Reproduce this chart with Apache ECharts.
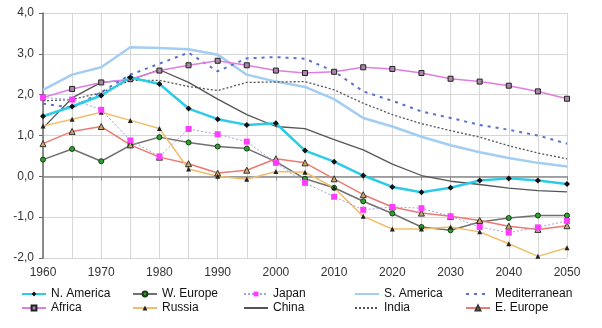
<!DOCTYPE html>
<html>
<head>
<meta charset="utf-8">
<script src="https://cdn.jsdelivr.net/npm/echarts@6/dist/echarts.min.js"></script>
<style>
  html, body { margin: 0; padding: 0; background: #fff; }
  #chart { width: 602px; height: 328px; }
</style>
</head>
<body>
<div id="chart"></div>
<script>
// Five-year steps, 1960-2050
const years = ['1960','1965','1970','1975','1980','1985','1990','1995','2000','2005',
               '2010','2015','2020','2025','2030','2035','2040','2045','2050'];

const nAmerica      = [1.47,1.71,1.98,2.42,2.26,1.66,1.40,1.26,1.30,0.63,0.36,0.02,-0.26,-0.39,-0.28,-0.10,-0.05,-0.10,-0.19];
const wEurope       = [0.41,0.67,0.37,0.76,0.96,0.83,0.73,0.68,0.36,-0.06,-0.28,-0.61,-0.91,-1.24,-1.32,-1.12,-1.02,-0.96,-0.96];
const japan         = [1.93,1.88,1.63,0.88,0.49,1.16,1.03,0.85,0.33,-0.16,-0.50,-0.82,-0.75,-0.78,-0.98,-1.24,-1.38,-1.25,-1.09];
const sAmerica      = [2.12,2.49,2.67,3.16,3.14,3.11,2.98,2.49,2.32,2.19,1.89,1.43,1.22,0.97,0.76,0.59,0.45,0.33,0.24];
const mediterranean = [1.78,1.68,2.06,2.49,2.76,3.03,2.57,2.89,2.92,2.88,2.57,2.08,1.85,1.59,1.43,1.26,1.14,1.00,0.80];
const africa        = [1.93,2.14,2.30,2.38,2.59,2.72,2.83,2.72,2.59,2.53,2.56,2.67,2.63,2.53,2.39,2.32,2.22,2.08,1.90];
const russia        = [1.23,1.40,1.57,1.37,1.17,0.18,0.00,-0.07,0.12,0.10,-0.28,-0.98,-1.29,-1.29,-1.24,-1.36,-1.65,-1.96,-1.75];
const china         = [1.18,1.92,2.30,2.36,2.61,2.30,1.89,1.51,1.22,1.17,0.90,0.65,0.30,0.02,-0.12,-0.20,-0.29,-0.35,-0.38];
const india         = [1.85,1.88,2.05,2.35,2.35,2.20,2.10,2.30,2.31,2.32,2.12,1.79,1.51,1.29,1.12,0.96,0.75,0.57,0.43];
const eEurope       = [0.80,1.10,1.22,0.77,0.47,0.31,0.08,0.15,0.43,0.33,-0.06,-0.45,-0.75,-0.90,-0.98,-1.08,-1.22,-1.30,-1.21];

const FONT = 'Liberation Sans, Arial, Helvetica, sans-serif';

// A zero-area path: lines without markers keep a plain line in the legend
const NO_MARK = 'path://M0,0L10,10';

function line(name, data, color, width, type, symbol, symbolSize, fill, border, z) {
  return {
    name: name,
    type: 'line',
    xAxisIndex: 0,
    data: data,
    z: z || 2,
    symbol: symbol || NO_MARK,
    symbolSize: symbolSize || 6,
    showSymbol: !!symbol,
    lineStyle: { color: color, width: width, type: type || 'solid' },
    itemStyle: { color: fill || color, borderColor: border || fill || color, borderWidth: border ? 1 : 0 },
    emphasis: { disabled: true },
    animation: false
  };
}

// One vertical legend per column, two entries each
const legendCols = [
  { left: 21,  names: ['N. America', 'Africa'] },
  { left: 132, names: ['W. Europe', 'Russia'] },
  { left: 243, names: ['Japan', 'China'] },
  { left: 354, names: ['S. America', 'India'] },
  { left: 465, names: ['Mediterranean', 'E. Europe'] }
];

const option = {
  backgroundColor: '#ffffff',
  grid: { left: 43, right: 35, top: 13, bottom: 70 },
  legend: legendCols.map(c => ({
    data: c.names,
    orient: 'vertical',
    left: c.left,
    top: 287,
    padding: 0,
    itemWidth: 24,
    itemHeight: 6,
    itemGap: 0,
    selectedMode: false,
    textStyle: { fontFamily: FONT, fontSize: 12, color: '#111', lineHeight: 14 }
  })),
  xAxis: [
    {
      type: 'category',
      data: years,
      boundaryGap: false,
      position: 'bottom',
      axisLine: { onZero: true, lineStyle: { color: '#8a8a8a', width: 1.5 } },
      axisTick: { show: true, length: 4, interval: 0, lineStyle: { color: '#8a8a8a' } },
      axisLabel: { show: false },
      splitLine: { show: true, interval: 0, lineStyle: { color: '#d6d6d6', width: 1 } }
    },
    {
      type: 'category',
      data: years,
      boundaryGap: false,
      position: 'bottom',
      axisLine: { show: false, onZero: false },
      axisTick: { show: false },
      axisLabel: { interval: 1, margin: 9, fontFamily: FONT, fontSize: 12, color: '#333' },
      splitLine: { show: false }
    }
  ],
  yAxis: {
    type: 'value',
    min: -2,
    max: 4,
    interval: 1,
    axisLine: { show: true, lineStyle: { color: '#6a6a6a', width: 1.5 } },
    axisTick: { show: true, length: 4, lineStyle: { color: '#6a6a6a' } },
    axisLabel: {
      margin: 9,
      fontFamily: FONT,
      fontSize: 12,
      color: '#333',
      formatter: v => v.toFixed(1).replace('.', ',')
    },
    splitLine: { show: true, lineStyle: { color: '#d6d6d6', width: 1 } }
  },
  series: [
    line('S. America',    sAmerica,      '#a3cdf2', 2.5, 'solid', null, 0, null, null, 1),
    line('Mediterranean', mediterranean, '#5a6fd0', 2,   [3, 5], null, 0, null, null, 1),
    line('India',         india,         '#555555', 1.3, [2, 2], null, 0, null, null, 1),
    line('China',         china,         '#555555', 1.3, 'solid', null, 0, null, null, 1),
    line('Africa',        africa,        '#e07ee0', 1.5, 'solid', 'rect', 5, '#a888a8', '#222222', 3),
    line('W. Europe',     wEurope,       '#707070', 1.5, 'solid', 'circle', 5, '#2aa52a', '#1a3a1a', 3),
    line('E. Europe',     eEurope,       '#ea7a72', 1.5, 'solid', 'triangle', 6, '#c8aa68', '#333333', 3),
    line('Russia',        russia,        '#f2bd6a', 1.5, 'solid', 'triangle', 5, '#222222', null, 3),
    line('Japan',         japan,         '#a0a4e0', 1,   [2, 2], 'rect', 6, '#ff3cff', null, 4),
    line('N. America',    nAmerica,      '#2ccbe6', 2.5, 'solid', 'diamond', 6, '#111111', null, 5)
  ]
};

const chart = echarts.init(document.getElementById('chart'), null, { renderer: 'canvas' });
chart.setOption(option);
</script>
</body>
</html>
